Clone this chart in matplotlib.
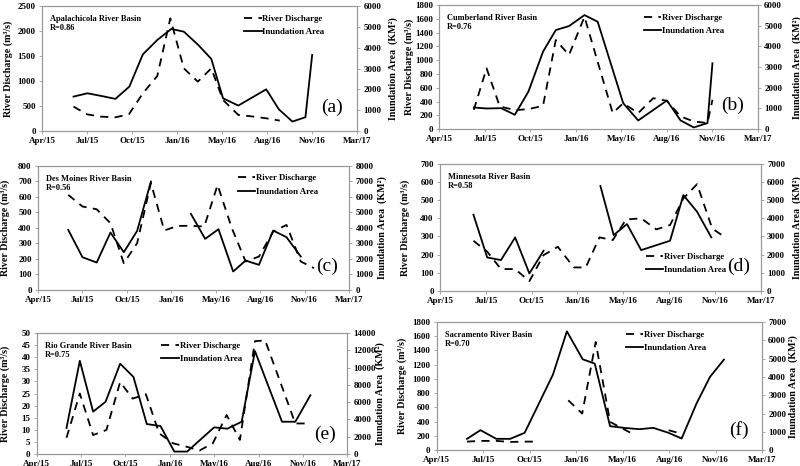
import numpy as np
import matplotlib
matplotlib.use('Agg')
import matplotlib.pyplot as plt

plt.rcParams['font.family'] = ['Liberation Serif', 'DejaVu Serif']

# x axis: days counted from the left edge (Apr/15), ticks every 100 days
tick_days = [0, 100, 200, 300, 400, 500, 600, 700]
tick_labels = ['Apr/15', 'Jul/15', 'Oct/15', 'Jan/16', 'May/16', 'Aug/16', 'Nov/16', 'Mar/17']
nan = np.nan

# (a) Apalachicola
a_dis_x = [70, 100, 130, 163, 193, 224, 256, 285, 315, 346, 376, 402, 436, 467, 498, 528]
a_dis_y = [487, 333, 287, 273, 333, 753, 1100, 2253, 1253, 987, 1253, 620, 320, 290, 253, 207]
a_inu_x = [70, 101, 132, 163, 194, 224, 256, 287, 315, 347, 376, 402, 436, 498, 526, 556, 585, 600]
a_inu_y = [1650, 1810, 1680, 1540, 2130, 3680, 4370, 4900, 4770, 4130, 3460, 1570, 1220, 2000, 1040, 450, 660, 3650]

# (b) Cumberland
b_dis_x = [76, 104, 133, 167, 196, 228, 256, 285, 319, 381, 404, 437, 470, 500, 530, 559, 589, 600]
b_dis_y = [280, 883, 328, 275, 290, 338, 1293, 1076, 1631, 232, 376, 232, 449, 410, 183, 111, 87, 425]
b_inu_x = [76, 104, 136, 166, 196, 228, 256, 285, 319, 348, 404, 437, 500, 530, 559, 589, 600]
b_inu_y = [1045, 997, 1013, 692, 1818, 3748, 4793, 4986, 5517, 5195, 1255, 418, 1383, 418, 80, 290, 3185]

# (c) Des Moines
c_dis_x = [68, 100, 132, 163, 193, 223, 254, 284, 314, 344, 374, 404, 436, 467, 497, 529, 559, 591, 621]
c_dis_y = [613, 538, 520, 430, 172, 301, 690, 383, 413, 413, 409, 677, 398, 183, 215, 376, 419, 183, 140]
c_inu_x = [68, 100, 132, 163, 193, 223, 254, 284, 344, 376, 406, 439, 467, 497, 529, 559, 591]
c_inu_y = [3871, 2108, 1763, 3699, 2430, 3806, 6989, nan, 4903, 3290, 3914, 1183, 1892, 1613, 3828, 3398, 2151]

# (d) Minnesota
d_dis_x = [73, 103, 133, 164, 195, 226, 257, 292, 318, 348, 377, 406, 439, 472, 502, 531, 561, 594, 622]
d_dis_y = [276, 216, 120, 120, 53, 197, 243, 129, 129, 295, 280, 394, 400, 339, 363, 510, 589, 344, 295]
d_inu_x = [73, 103, 133, 164, 195, 226, 290, 350, 379, 408, 439, 502, 531, 561, 592]
d_inu_y = [4200, 1842, 1695, 2947, 958, 2210, nan, 5784, 3076, 3684, 2247, 2763, 5286, 4365, 2947]

# (e) Rio Grande
e_dis_x = [67, 97, 127, 157, 188, 216, 246, 276, 307, 337, 367, 397, 428, 458, 492, 515, 583, 617]
e_dis_y = [6.7, 25, 7.8, 9.9, 29.8, 22.9, 24.7, 8.5, 4.4, 3.0, 1.4, 4.4, 16.1, 5.8, 46.7, 47, 12.6, 12.6]
e_inu_x = [67, 97, 127, 155, 188, 218, 248, 279, 310, 339, 400, 430, 462, 492, 553, 583, 617]
e_inu_y = [3000, 10800, 4900, 6040, 10460, 8920, 3460, 3230, 270, 270, 3080, 2920, 3730, 11920, 3730, 3730, 6800]

# (f) Sacramento
f_dis_x = [65, 94, 128, 158, 189, 218, 250, 283, 313, 342, 373, 420, 460, 499, 527]
f_dis_y = [120, 130, 130, 115, 120, 120, nan, 700, 514, 1519, 397, 234, nan, 280, 230]
f_inu_x = [65, 94, 128, 158, 189, 218, 250, 280, 314, 340, 373, 403, 436, 466, 499, 527, 559, 588, 618]
f_inu_y = [618, 1091, 618, 618, 945, 2455, 4127, 6491, 4964, 4727, 1309, 1218, 1145, 1218, 945, 636, 2545, 4000, 4945]


def panel(fig, rect, dis_x, dis_y, inu_x, inu_y, lmax, lstep, rmax, rstep,
          title, label, leg_xy, label_xy, ylab_px):
    ax = fig.add_axes(rect)
    ax2 = ax.twinx()
    l1, = ax.plot(dis_x, dis_y, color='black', lw=1.3, dashes=(4.5, 3.5))
    l2, = ax2.plot(inu_x, inu_y, color='black', lw=1.3)
    ax.set_xlim(0, 700)
    ax.set_ylim(0, lmax)
    ax2.set_ylim(0, rmax)
    ax.set_xticks(tick_days)
    ax.set_xticklabels(tick_labels)
    ax.set_yticks(np.arange(0, lmax + lstep / 2, lstep))
    ax2.set_yticks(np.arange(0, rmax + rstep / 2, rstep))
    for a in (ax, ax2):
        for s in a.spines.values():
            s.set_color('#999999')
            s.set_linewidth(0.8)
        a.tick_params(labelsize=6.5, length=2.5, width=0.6, color='#999999', pad=2)
        for t in a.get_xticklabels() + a.get_yticklabels():
            t.set_fontweight('bold')
    ax.set_ylabel('River Discharge (m³/s)', fontsize=7.2, fontweight='bold')
    ax2.set_ylabel('Inundation Area  (KM²)', fontsize=7.2, fontweight='bold')
    # ylabel positions in figure pixels (left label right edge, right label left edge)
    ymid = rect[1] + rect[3] / 2
    ax.yaxis.set_label_coords(ylab_px[0] / 800, ymid, transform=fig.transFigure)
    ax2.yaxis.set_label_coords(ylab_px[1] / 800, ymid, transform=fig.transFigure)
    ax.text(0.025, 0.93, title, transform=ax.transAxes, fontsize=6.0,
            fontweight='bold', va='top', ha='left', linespacing=1.2)
    ax.text(label_xy[0], label_xy[1], label, transform=ax.transAxes, fontsize=14,
            ha='center', va='center')
    ax2.legend([l1, l2], ['River Discharge', 'Inundation Area'], loc='upper left',
               bbox_to_anchor=leg_xy, frameon=False, handlelength=2.0, handletextpad=0.1,
               labelspacing=0.6, borderaxespad=0,
               prop={'size': 6.3, 'weight': 'bold'})
    return ax


fig = plt.figure(figsize=(8, 4.66), dpi=100)

panel(fig, [0.0525, 0.719, 0.394, 0.268], a_dis_x, a_dis_y, a_inu_x, a_inu_y,
      2500, 500, 6000, 1000, 'Apalachicola River Basin\nR=0.86', '(a)',
      (0.63, 0.96), (0.92, 0.19), (13, 388))
panel(fig, [0.549, 0.723, 0.3985, 0.266], b_dis_x, b_dis_y, b_inu_x, b_inu_y,
      1800, 200, 6000, 1000, 'Cumberland River Basin\nR=0.76', '(b)',
      (0.63, 0.96), (0.92, 0.19), (414, 792))
panel(fig, [0.0475, 0.378, 0.389, 0.266], c_dis_x, c_dis_y, c_inu_x, c_inu_y,
      800, 100, 8000, 1000, 'Des Moines River Basin\nR=0.56', '(c)',
      (0.63, 0.96), (0.93, 0.19), (10, 377))
panel(fig, [0.55, 0.376, 0.401, 0.272], d_dis_x, d_dis_y, d_inu_x, d_inu_y,
      700, 100, 7000, 1000, 'Minnesota River Basin\nR=0.58', '(d)',
      (0.63, 0.33), (0.93, 0.19), (410, 792))
panel(fig, [0.046, 0.026, 0.388, 0.259], e_dis_x, e_dis_y, e_inu_x, e_inu_y,
      50, 5, 14000, 2000, 'Rio Grande River Basin\nR=0.75', '(e)',
      (0.39, 0.96), (0.93, 0.16), (10, 375))
panel(fig, [0.546, 0.034, 0.4065, 0.275], f_dis_x, f_dis_y, f_inu_x, f_inu_y,
      1800, 200, 7000, 1000, 'Sacramento River Basin\nR=0.70', '(f)',
      (0.57, 0.96), (0.93, 0.16), (407, 788))

fig.savefig('out.png', dpi=100)
